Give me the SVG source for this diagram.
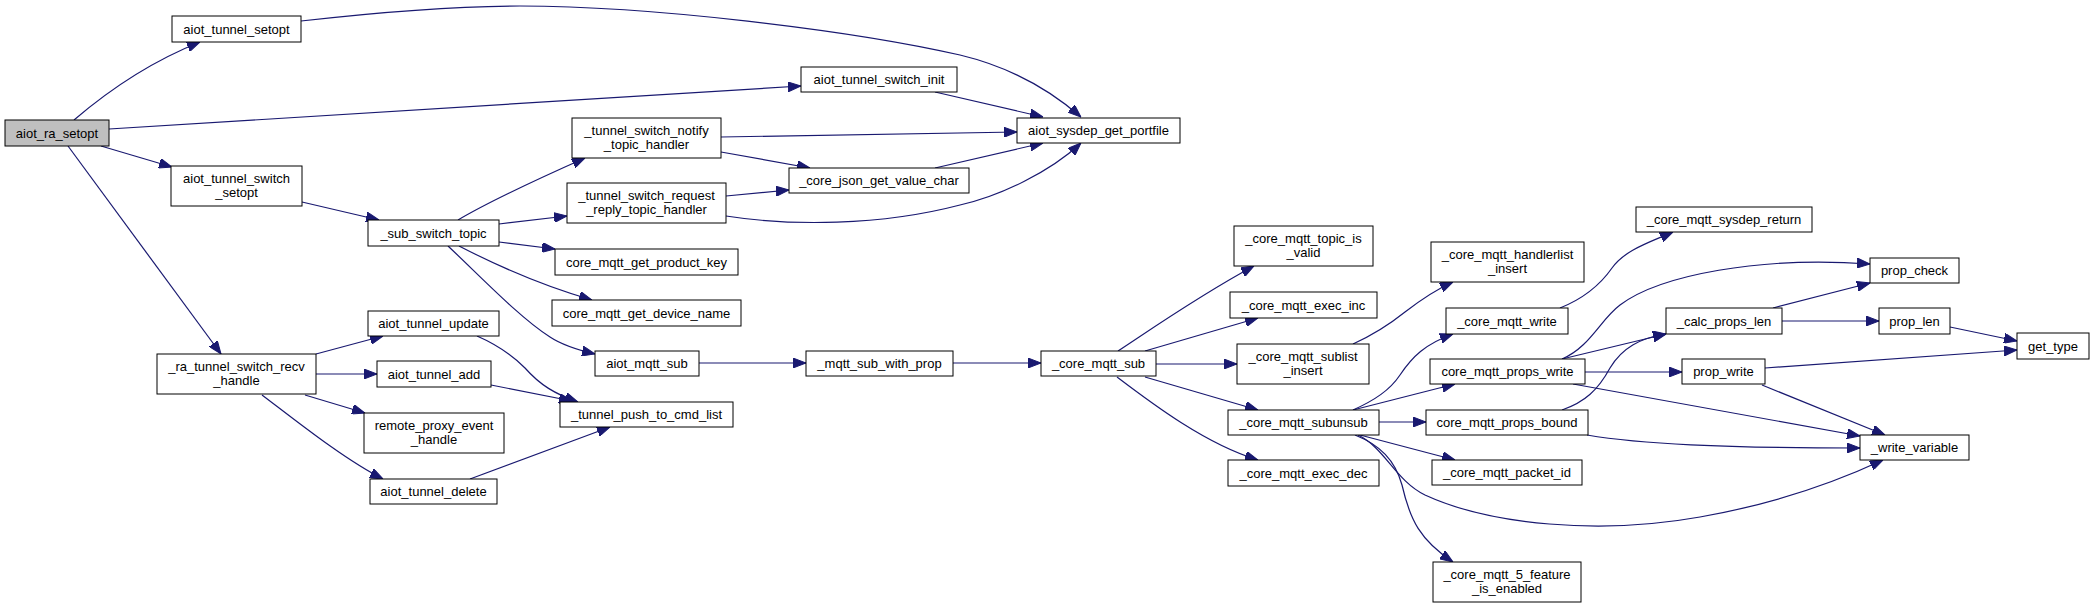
<svg xmlns="http://www.w3.org/2000/svg" width="2095" height="608" viewBox="0 0 2095 608">
<style>
.n rect{fill:#ffffff;stroke:#000000;stroke-width:1}
.n.root rect{fill:#bfbfbf}
.n text{font-family:"Liberation Sans",Arial,Helvetica,sans-serif;font-size:13px;fill:#000000;text-anchor:middle}
.e path{fill:none;stroke:#191970;stroke-width:1.2;marker-end:url(#arr)}
</style>
<defs>
<marker id="arr" markerWidth="13" markerHeight="10" refX="13" refY="5" orient="auto" markerUnits="userSpaceOnUse">
<path d="M0,0 L13,5 L0,10 z" fill="#191970" stroke="#191970" stroke-width="1"/>
</marker>
</defs>
<rect x="0" y="0" width="2095" height="608" fill="#ffffff"/>
<g id="edges" class="e">
<path d="M74,120 C95,102 140,66 200,42"/>
<path d="M109,129 L801,86"/>
<path d="M101,146 L172,167"/>
<path d="M68,146 L221,354"/>
<path d="M301,21 C380,12 450,6 520,6 C650,6 850,30 960,55 C1010,67 1050,90 1081,117"/>
<path d="M935,92 L1043,117"/>
<path d="M721,137 L1017,132"/>
<path d="M721,152 L810,168"/>
<path d="M726,196 L789,190"/>
<path d="M726,216 C790,226 880,226 960,205 C1000,196 1050,172 1081,143"/>
<path d="M935,168 L1043,143"/>
<path d="M302,202 L379,220"/>
<path d="M458,220 C490,201 540,178 585,158"/>
<path d="M499,224 L567,216"/>
<path d="M499,242 L555,249"/>
<path d="M459,246 C490,262 540,285 592,300"/>
<path d="M448,246 C480,276 520,318 550,337 C562,345 578,350 595,354"/>
<path d="M316,354 L383,336"/>
<path d="M316,374 L377,374"/>
<path d="M305,395 L365,413"/>
<path d="M262,395 C295,420 345,460 383,479"/>
<path d="M477,336 C500,346 515,358 525,368 C540,385 555,394 578,402"/>
<path d="M491,385 L572,401"/>
<path d="M470,479 L610,427"/>
<path d="M699,363 L806,363"/>
<path d="M953,363 L1041,363"/>
<path d="M1118,351 C1150,330 1200,295 1254,266"/>
<path d="M1145,351 L1258,318"/>
<path d="M1156,364 L1237,364"/>
<path d="M1145,377 L1258,410"/>
<path d="M1117,377 C1150,402 1205,444 1258,460"/>
<path d="M1353,344 C1375,334 1390,324 1405,312 C1418,302 1435,290 1453,282"/>
<path d="M1353,410 C1375,400 1390,390 1400,375 C1412,357 1425,344 1453,334"/>
<path d="M1353,410 L1455,384"/>
<path d="M1379,422 L1426,422"/>
<path d="M1360,435 L1455,460"/>
<path d="M1355,435 C1380,445 1395,460 1402,485 C1410,520 1420,540 1453,562"/>
<path d="M1358,435 C1385,448 1395,480 1425,495 C1490,525 1600,535 1700,517 C1780,503 1840,480 1883,460"/>
<path d="M1560,308 C1580,300 1598,288 1612,268 C1625,250 1648,243 1673,232"/>
<path d="M1562,359 C1590,347 1600,320 1620,305 C1660,275 1760,256 1870,264"/>
<path d="M1562,359 L1666,334"/>
<path d="M1562,410 C1585,402 1598,390 1610,368 C1622,348 1640,338 1666,334"/>
<path d="M1585,372 L1682,372"/>
<path d="M1573,384 L1860,436"/>
<path d="M1587,435 C1640,444 1720,448 1860,448"/>
<path d="M1773,308 L1870,283"/>
<path d="M1782,321 L1879,321"/>
<path d="M1950,327 L2017,341"/>
<path d="M1765,368 L2017,350"/>
<path d="M1762,385 L1885,435"/>
</g>
<g id="aiot_ra_setopt" class="n root"><rect x="5" y="120" width="104" height="26"/><text x="57" y="137.5">aiot_ra_setopt</text></g>
<g id="aiot_tunnel_setopt" class="n"><rect x="172" y="16" width="129" height="26"/><text x="236.5" y="33.5">aiot_tunnel_setopt</text></g>
<g id="aiot_tunnel_switch_init" class="n"><rect x="801" y="67" width="156" height="25"/><text x="879" y="84">aiot_tunnel_switch_init</text></g>
<g id="aiot_tunnel_switch_setopt" class="n"><rect x="171" y="166" width="131" height="40"/><text x="236.5" y="182.5">aiot_tunnel_switch</text><text x="236.5" y="197">_setopt</text></g>
<g id="_ra_tunnel_switch_recv_handle" class="n"><rect x="157" y="354" width="159" height="40"/><text x="236.5" y="370.5">_ra_tunnel_switch_recv</text><text x="236.5" y="385">_handle</text></g>
<g id="aiot_sysdep_get_portfile" class="n"><rect x="1017" y="118" width="163" height="25"/><text x="1098.5" y="135">aiot_sysdep_get_portfile</text></g>
<g id="_sub_switch_topic" class="n"><rect x="368" y="220" width="131" height="26"/><text x="433.5" y="237.5">_sub_switch_topic</text></g>
<g id="_tunnel_switch_notify_topic_handler" class="n"><rect x="572" y="118" width="149" height="40"/><text x="646.5" y="134.5">_tunnel_switch_notify</text><text x="646.5" y="149">_topic_handler</text></g>
<g id="_core_json_get_value_char" class="n"><rect x="789" y="168" width="180" height="25"/><text x="879" y="185">_core_json_get_value_char</text></g>
<g id="_tunnel_switch_request_reply_topic_handler" class="n"><rect x="567" y="183" width="159" height="40"/><text x="646.5" y="199.5">_tunnel_switch_request</text><text x="646.5" y="214">_reply_topic_handler</text></g>
<g id="core_mqtt_get_product_key" class="n"><rect x="555" y="249" width="183" height="26"/><text x="646.5" y="266.5">core_mqtt_get_product_key</text></g>
<g id="core_mqtt_get_device_name" class="n"><rect x="552" y="300" width="189" height="26"/><text x="646.5" y="317.5">core_mqtt_get_device_name</text></g>
<g id="aiot_mqtt_sub" class="n"><rect x="595" y="351" width="104" height="25"/><text x="647" y="368">aiot_mqtt_sub</text></g>
<g id="_mqtt_sub_with_prop" class="n"><rect x="806" y="351" width="147" height="25"/><text x="879.5" y="368">_mqtt_sub_with_prop</text></g>
<g id="_core_mqtt_sub" class="n"><rect x="1041" y="351" width="115" height="25"/><text x="1098.5" y="368">_core_mqtt_sub</text></g>
<g id="aiot_tunnel_update" class="n"><rect x="368" y="311" width="131" height="25"/><text x="433.5" y="328">aiot_tunnel_update</text></g>
<g id="aiot_tunnel_add" class="n"><rect x="377" y="361" width="114" height="26"/><text x="434" y="378.5">aiot_tunnel_add</text></g>
<g id="remote_proxy_event_handle" class="n"><rect x="364" y="413" width="140" height="40"/><text x="434" y="429.5">remote_proxy_event</text><text x="434" y="444">_handle</text></g>
<g id="aiot_tunnel_delete" class="n"><rect x="370" y="479" width="127" height="25"/><text x="433.5" y="496">aiot_tunnel_delete</text></g>
<g id="_tunnel_push_to_cmd_list" class="n"><rect x="560" y="402" width="173" height="25"/><text x="646.5" y="419">_tunnel_push_to_cmd_list</text></g>
<g id="_core_mqtt_topic_is_valid" class="n"><rect x="1234" y="226" width="139" height="40"/><text x="1303.5" y="242.5">_core_mqtt_topic_is</text><text x="1303.5" y="257">_valid</text></g>
<g id="_core_mqtt_exec_inc" class="n"><rect x="1230" y="292" width="147" height="26"/><text x="1303.5" y="309.5">_core_mqtt_exec_inc</text></g>
<g id="_core_mqtt_sublist_insert" class="n"><rect x="1237" y="344" width="132" height="40"/><text x="1303" y="360.5">_core_mqtt_sublist</text><text x="1303" y="375">_insert</text></g>
<g id="_core_mqtt_subunsub" class="n"><rect x="1228" y="410" width="151" height="25"/><text x="1303.5" y="427">_core_mqtt_subunsub</text></g>
<g id="_core_mqtt_exec_dec" class="n"><rect x="1228" y="460" width="151" height="26"/><text x="1303.5" y="477.5">_core_mqtt_exec_dec</text></g>
<g id="_core_mqtt_handlerlist_insert" class="n"><rect x="1431" y="242" width="153" height="40"/><text x="1507.5" y="258.5">_core_mqtt_handlerlist</text><text x="1507.5" y="273">_insert</text></g>
<g id="_core_mqtt_write" class="n"><rect x="1446" y="308" width="122" height="26"/><text x="1507" y="325.5">_core_mqtt_write</text></g>
<g id="core_mqtt_props_write" class="n"><rect x="1430" y="359" width="155" height="25"/><text x="1507.5" y="376">core_mqtt_props_write</text></g>
<g id="core_mqtt_props_bound" class="n"><rect x="1426" y="410" width="162" height="25"/><text x="1507" y="427">core_mqtt_props_bound</text></g>
<g id="_core_mqtt_packet_id" class="n"><rect x="1432" y="460" width="150" height="25"/><text x="1507" y="477">_core_mqtt_packet_id</text></g>
<g id="_core_mqtt_5_feature_is_enabled" class="n"><rect x="1433" y="562" width="148" height="40"/><text x="1507" y="578.5">_core_mqtt_5_feature</text><text x="1507" y="593">_is_enabled</text></g>
<g id="_core_mqtt_sysdep_return" class="n"><rect x="1636" y="207" width="176" height="25"/><text x="1724" y="224">_core_mqtt_sysdep_return</text></g>
<g id="prop_check" class="n"><rect x="1870" y="258" width="89" height="25"/><text x="1914.5" y="275">prop_check</text></g>
<g id="_calc_props_len" class="n"><rect x="1666" y="308" width="116" height="26"/><text x="1724" y="325.5">_calc_props_len</text></g>
<g id="prop_len" class="n"><rect x="1879" y="308" width="71" height="26"/><text x="1914.5" y="325.5">prop_len</text></g>
<g id="prop_write" class="n"><rect x="1682" y="359" width="83" height="25"/><text x="1723.5" y="376">prop_write</text></g>
<g id="_write_variable" class="n"><rect x="1860" y="435" width="109" height="25"/><text x="1914.5" y="452">_write_variable</text></g>
<g id="get_type" class="n"><rect x="2017" y="333" width="72" height="26"/><text x="2053" y="350.5">get_type</text></g>
</svg>
